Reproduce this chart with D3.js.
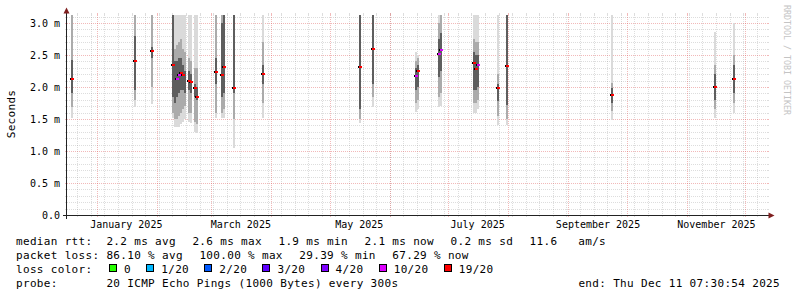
<!DOCTYPE html>
<html>
<head>
<meta charset="utf-8">
<script src="https://cdn.jsdelivr.net/npm/d3@7"></script>
<style>
  body { margin: 0; background: #fff; }
  svg { display: block; font-family: "DejaVu Sans Mono", monospace; }
  text { white-space: pre; }
</style>
</head>
<body>
<svg id="chart" width="797" height="297"></svg>
<script>
// one smoke column per day (ms); null median = median mark not visible
const days   = ["2024-12-19","2025-01-20","2025-01-29","2025-02-09","2025-02-10","2025-02-11","2025-02-12",
                "2025-02-13","2025-02-14","2025-02-15","2025-02-17","2025-02-18","2025-02-20","2025-02-21",
                "2025-03-03","2025-03-06","2025-03-07","2025-03-12","2025-03-27","2025-05-16","2025-05-23",
                "2025-06-14","2025-06-15","2025-06-26","2025-06-27","2025-07-14","2025-07-15","2025-07-16",
                "2025-07-26","2025-07-31","2025-09-23","2025-11-15","2025-11-25"];
const pMin   = [1.52,1.68,1.73,1.52,1.37,1.37,1.38,1.42,1.45,1.50,1.45,1.44,1.30,1.28,1.52,1.52,1.52,1.05,1.52,1.43,1.68,
                1.61,1.65,1.69,1.70,1.60,1.59,1.65,1.41,1.41,1.48,1.51,1.59];
const p10    = [1.69,1.80,2.00,1.60,1.50,1.50,1.55,1.60,1.65,1.70,1.60,1.60,1.45,1.42,1.60,1.60,1.65,1.50,1.75,1.50,1.85,
                1.75,1.80,1.85,1.90,1.75,1.75,1.80,1.55,1.50,1.62,1.65,1.75];
const p25    = [1.90,1.95,2.45,1.85,1.75,1.85,1.90,1.95,1.95,1.90,1.95,1.90,1.85,1.80,2.05,1.85,1.90,1.90,2.05,1.65,2.05,
                1.95,2.00,2.15,2.25,1.95,1.95,2.00,1.78,1.72,1.75,1.80,1.90];
const median = [2.13,2.41,2.56,2.35,null,2.13,2.18,2.22,2.19,null,2.10,2.08,1.98,1.85,2.23,2.18,2.31,1.98,2.21,2.32,2.59,
                2.17,2.25,2.52,2.58,2.38,2.28,2.35,1.98,2.33,1.875,2.00,2.12];
const p75    = [2.42,2.80,2.62,3.50,2.40,2.40,2.45,2.45,2.35,2.25,2.25,2.20,2.05,2.00,2.45,3.00,3.20,3.50,2.35,3.50,3.50,
                2.30,2.35,2.75,2.85,2.55,2.50,2.50,2.05,4.00,1.98,2.20,2.35];
const p90    = [4.00,4.00,3.50,4.00,2.60,2.65,2.70,2.75,2.60,2.55,2.45,2.40,2.30,2.30,3.50,4.00,4.00,4.00,2.70,4.00,4.00,
                2.40,2.45,3.00,3.30,2.75,2.70,2.70,2.20,4.50,2.06,2.35,2.50];
const pMax   = [4.5,4.5,4.0,4.5,4.0,4.0,4.0,4.0,4.0,3.8,4.0,4.0,4.0,4.0,4.0,4.5,4.5,4.5,4.0,4.5,4.5,
                2.55,2.50,4.0,4.0,4.0,4.0,4.0,4.0,5.0,4.0,2.86,3.00];
const loss   = ["19/20","19/20","19/20","19/20",null,"10/20","10/20","19/20","19/20",null,"19/20","19/20","19/20","19/20",
                "19/20","19/20","19/20","19/20","19/20","19/20","19/20","10/20","19/20","10/20","10/20","19/20","19/20",
                "10/20","19/20","19/20","19/20","19/20","19/20"];

const lossLabels = ["0","1/20","2/20","3/20","4/20","10/20","19/20"];
const lossColors = ["#26ff00","#00b8ff","#0059ff","#5e00ff","#7e00ff","#dd00ff","#ff0000"];

const yTicks = [0, 0.5, 1.0, 1.5, 2.0, 2.5, 3.0];
const xLabelMonths = ["2025-01-01","2025-03-01","2025-05-01","2025-07-01","2025-09-01","2025-11-01"];

const rttStats  = ["2.2 ms avg","2.6 ms max","1.9 ms min","2.1 ms now","0.2 ms sd","11.6   am/s"];
const lossStats = ["86.10 % avg","100.00 % max","29.39 % min","67.29 % now"];
const probeText = "20 ICMP Echo Pings (1000 Bytes) every 300s";
const endText   = "end: Thu Dec 11 07:30:54 2025";

const svg = d3.select("#chart");
const plot = { left: 67, right: 767, top: 15, bottom: 215 };
const parse = d3.utcParse("%Y-%m-%d");

const x = d3.scaleUtc()
    .domain([new Date(Date.UTC(2024, 11, 16, 17)), new Date(Date.UTC(2025, 11, 12, 7, 30))])
    .range([plot.left, plot.right]);
const y = d3.scaleLinear().domain([0, 3.125]).range([plot.bottom, plot.top]);
const lossColor = d3.scaleOrdinal(lossLabels, lossColors);

const GRID = "rgba(143,143,143,0.3)";
const MGRID = "rgba(222,80,80,0.4)";
const px = v => Math.round(v) + 0.5;

svg.append("rect").attr("width", 797).attr("height", 297).attr("fill", "#fff");
svg.append("clipPath").attr("id", "clip")
  .append("rect").attr("x", plot.left).attr("y", plot.top)
  .attr("width", plot.right - plot.left).attr("height", plot.bottom - plot.top);

// grid: minor every 0.1 ms / week, major every 0.5 ms / month
const grid = svg.append("g").attr("shape-rendering", "crispEdges").attr("stroke-width", 1);
const minorY = d3.range(1, 32).filter(i => i % 5 !== 0).map(i => i / 10);
const majorY = yTicks.filter(v => v > 0);
const minorX = d3.utcSunday.range(...x.domain());
const majorX = d3.utcMonth.range(...x.domain());

function hLines(vals, color) {
  grid.append("g").selectAll("line").data(vals).join("line")
    .attr("x1", plot.left).attr("x2", plot.right)
    .attr("y1", d => px(y(d))).attr("y2", d => px(y(d)))
    .attr("stroke", color).attr("stroke-dasharray", "1,1");
  grid.append("g").selectAll("path").data(vals).join("path")
    .attr("d", d => `M${plot.left - 2},${px(y(d))}H${plot.left}M${plot.right},${px(y(d))}H${plot.right + 2}`)
    .attr("stroke", color);
}
function vLines(vals, color) {
  grid.append("g").selectAll("line").data(vals).join("line")
    .attr("x1", d => px(x(d))).attr("x2", d => px(x(d)))
    .attr("y1", plot.top).attr("y2", plot.bottom)
    .attr("stroke", color).attr("stroke-dasharray", "1,1");
  grid.append("g").selectAll("path").data(vals).join("path")
    .attr("d", d => `M${px(x(d))},${plot.top - 2}V${plot.top}M${px(x(d))},${plot.bottom}V${plot.bottom + 2}`)
    .attr("stroke", color);
}
hLines(minorY, GRID);
vLines(minorX, GRID);
hLines(majorY, MGRID);
vLines(majorX, MGRID);

// smoke: nested percentile bands, lighter outside, darker inside
const cols = days.map((d, i) => ({
  t: parse(d),
  lo: [pMin[i], p10[i], p25[i]],
  hi: [pMax[i], p90[i], p75[i]],
  med: median[i],
  loss: loss[i]
}));
const colX0 = d => Math.round(x(d.t));
const colX1 = d => Math.round(x(d3.utcDay.offset(d.t, 1)));
const shades = ["#dadada", "#ababab", "#5e5e5e"];

const smoke = svg.append("g").attr("clip-path", "url(#clip)").attr("shape-rendering", "crispEdges");
shades.forEach((shade, k) => {
  smoke.append("g").selectAll("rect").data(cols).join("rect")
    .attr("x", colX0)
    .attr("width", d => colX1(d) - colX0(d))
    .attr("y", d => y(d.hi[k]))
    .attr("height", d => y(d.lo[k]) - y(d.hi[k]))
    .attr("fill", shade);
});

// median marks coloured by packet loss
const meds = cols.filter(d => d.med != null);
smoke.append("g").selectAll("rect").data(meds).join("rect")
  .attr("x", d => colX0(d) - 1).attr("width", 1)
  .attr("y", d => Math.round(y(d.med)) - 1).attr("height", 2)
  .attr("fill", "#000");
smoke.append("g").selectAll("rect").data(meds).join("rect")
  .attr("x", colX0).attr("width", d => colX1(d) - colX0(d) + 1)
  .attr("y", d => Math.round(y(d.med)) - 1).attr("height", 2)
  .attr("fill", d => lossColor(d.loss));

// axes
const xAxis = d3.axisBottom(x)
  .tickValues(xLabelMonths.map(m => d3.utcDay.offset(parse(m), 15)))
  .tickFormat(d3.utcFormat("%B %Y"))
  .tickSize(0).tickPadding(6);
svg.append("g").attr("transform", `translate(0,${plot.bottom})`)
  .call(xAxis)
  .call(g => g.select(".domain").remove())
  .attr("font-family", null).attr("font-size", 10);

const yAxis = d3.axisLeft(y)
  .tickValues(yTicks)
  .tickFormat(d => d === 0 ? "0.0" : d3.format(".1f")(d) + " m")
  .tickSize(0).tickPadding(7);
svg.append("g").attr("transform", `translate(${plot.left},0)`)
  .call(yAxis)
  .call(g => g.select(".domain").remove())
  .attr("font-family", null).attr("font-size", 10);

const axisCol = "#222";
const arrowCol = "#7f1f1f";
svg.append("path").attr("shape-rendering", "crispEdges")
  .attr("d", `M63,${plot.bottom + 0.5}H769M${plot.left - 0.5},219V11`)
  .attr("stroke", axisCol).attr("fill", "none");
svg.append("path").attr("d", "M63.5,13.5L69.5,13.5L66.5,7.5Z").attr("fill", arrowCol);
svg.append("path").attr("d", "M768.5,212.5L768.5,218.5L774.5,215.5Z").attr("fill", arrowCol);

svg.append("text")
  .attr("transform", "translate(15,114) rotate(-90)")
  .attr("text-anchor", "middle").attr("font-size", 11).attr("letter-spacing", 0.3)
  .text("Seconds");

svg.append("text")
  .attr("transform", "translate(784,5) rotate(90)")
  .attr("font-size", 8.3).attr("fill", "#c4c4c4")
  .text("RRDTOOL / TOBI OETIKER");

// legend, laid out left to right like rrdtool
const lg = svg.append("g").attr("font-size", 11).attr("letter-spacing", 0.33).attr("fill", "#000");
const GAP = 16.5;
function flowText(items, base) {
  let cx = 16;
  items.forEach(s => {
    const t = lg.append("text").attr("x", cx).attr("y", base).text(s);
    cx += t.node().getComputedTextLength() + GAP;
  });
}
flowText(["median rtt:  " + rttStats[0], ...rttStats.slice(1)], 245);
flowText(["packet loss: " + lossStats[0], ...lossStats.slice(1)], 259);

let lx = 16;
const lossHead = lg.append("text").attr("x", lx).attr("y", 273.3).text("loss color:");
lx += lossHead.node().getComputedTextLength() + GAP;
lossLabels.forEach((lab, i) => {
  lg.append("rect").attr("x", lx + 0.5).attr("y", 264.5).attr("width", 7).attr("height", 7)
    .attr("fill", lossColors[i]).attr("stroke", "#000").attr("shape-rendering", "crispEdges");
  const t = lg.append("text").attr("x", lx + 15).attr("y", 273.3).text(lab);
  lx += 15 + t.node().getComputedTextLength() + 15.3;
});

lg.append("text").attr("x", 16).attr("y", 286.7).text("probe:       " + probeText);
lg.append("text").attr("x", 780).attr("y", 286.7).attr("text-anchor", "end").text(endText);
</script>
</body>
</html>
